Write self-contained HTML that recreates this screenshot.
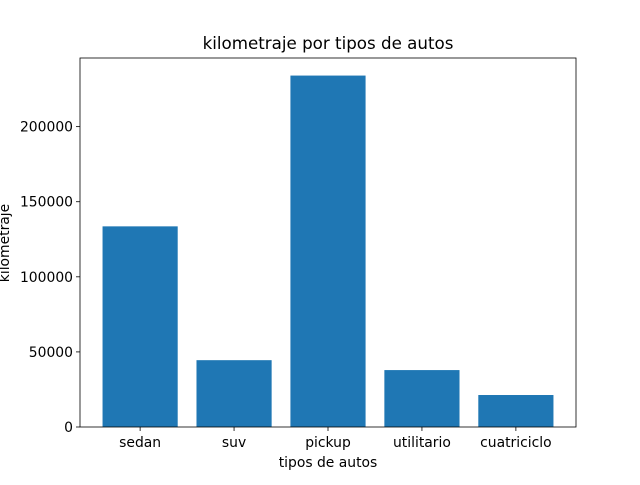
<!DOCTYPE html>
<html><head><meta charset="utf-8"><style>
body{margin:0;background:#fff;font-family:"Liberation Sans","DejaVu Sans",sans-serif;}
svg text{font-family:"DejaVu Sans","Liberation Sans",sans-serif;}
</style></head><body>
<svg id="chart" width="640" height="480">
<rect width="640" height="480" fill="#fff"/>
<text x="328" y="49" font-size="16.7" text-anchor="middle">kilometraje por tipos de autos</text>
<g id="bars"></g>
<g id="axes"></g>
<text x="328" y="467" font-size="13.9" text-anchor="middle">tipos de autos</text>
<text transform="translate(9,243) rotate(-90)" font-size="13.9" text-anchor="middle">kilometraje</text>
</svg>
<script>
const categories=["sedan","suv","pickup","utilitario","cuatriciclo"];
const values=[133600,44500,234000,37900,21300];
const yTicks=[0,50000,100000,150000,200000];
const NS="http://www.w3.org/2000/svg";
const L=80,R=576,T=58,B=427;
const ymax=Math.max(...values)*1.05;
const xmin=-0.64,xmax=categories.length-1+0.64;
const xs=v=>L+(v-xmin)/(xmax-xmin)*(R-L);
const ys=v=>B-v/ymax*(B-T);
function mk(tag,attrs,parent){const e=document.createElementNS(NS,tag);for(const k in attrs)e.setAttribute(k,attrs[k]);parent.appendChild(e);return e;}
const bars=document.getElementById('bars'),axes=document.getElementById('axes');
categories.forEach((c,i)=>{
  const r=mk('rect',{x:xs(i-0.4),y:ys(values[i]),width:xs(i+0.4)-xs(i-0.4),height:ys(0)-ys(values[i]),fill:'#1f77b4'},bars);
  
  
  mk('line',{x1:xs(i),x2:xs(i),y1:B,y2:B+4,stroke:'#000','stroke-width':0.8},axes);
  const t=mk('text',{x:xs(i),y:B+20,'font-size':13.9,'text-anchor':'middle'},axes);
  t.textContent=c;
  
  
});
yTicks.forEach(v=>{
  mk('line',{x1:L-4,x2:L,y1:ys(v),y2:ys(v),stroke:'#000','stroke-width':0.8},axes);
  const t=mk('text',{x:L-7,y:ys(v)+5,'font-size':13.9,'text-anchor':'end'},axes);
  t.textContent=v;
  
  
});
const f=mk('rect',{x:L,y:T,width:R-L,height:B-T,fill:'none',stroke:'#000','stroke-width':0.8},axes);


</script>
</body></html>
